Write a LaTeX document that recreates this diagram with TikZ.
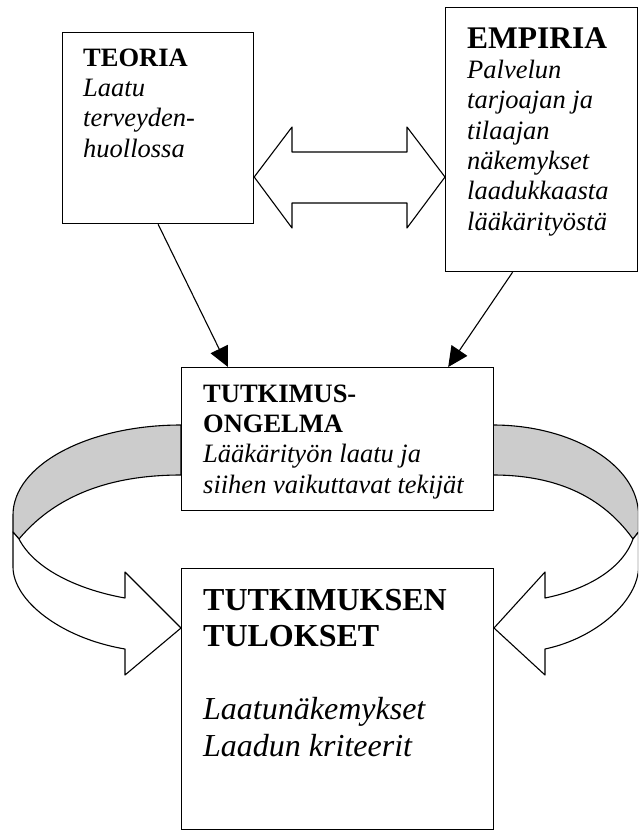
\documentclass[tikz,border=0pt]{standalone}
\usepackage{fontspec}
\setmainfont{Liberation Serif}
\usetikzlibrary{arrows.meta}
\definecolor{bandgray}{RGB}{204,204,204}
\begin{document}
\begin{tikzpicture}[x=1pt,y=-1pt,
    box/.style={draw,line width=1.2pt,fill=white,anchor=north west,inner sep=0pt},
    txt/.style={anchor=base west,inner sep=0pt,align=left,font=\fontsize{26.5}{30.3}\selectfont},
    band/.style={draw,line width=1.1pt,line join=round},
    link/.style={line width=1.1pt,-{Triangle[length=20pt,width=19pt]}}]
  \useasboundingbox (0,0) rectangle (638,831);
  \clip (0,0) rectangle (638,831);
  \draw[band,fill=bandgray] (181,425) .. controls (88,425) and (13,465) .. (13,515) -- (13,532) -- (19,539)
    .. controls (60,490) and (120,475) .. (181,475) -- cycle;
  \draw[band,fill=white] (13,532) -- (13,567) .. controls (13,600) and (60,638) .. (125,649) -- (125,675)
    -- (181,628) -- (125,572) -- (125,598) .. controls (80,590) and (35,570) .. (19,539) -- cycle;
  \draw[band,fill=bandgray] (493,425) .. controls (572,425) and (638.5,465) .. (638.5,515) -- (638.5,532) -- (633,539)
    .. controls (598,490) and (546,475) .. (493,475) -- cycle;
  \draw[band,fill=white] (638.5,532) -- (638.5,567) .. controls (638.5,600) and (597,638) .. (545,649) -- (545,675)
    -- (494,628) -- (545,572) -- (545,598) .. controls (585,590) and (622,570) .. (633,539) -- cycle;
  \node[box,minimum width=191pt,minimum height=191pt] (teoria) at (62,32) {};
  \node[box,minimum width=192pt,minimum height=264pt] (empiria) at (445,7) {};
  \node[box,minimum width=312pt,minimum height=143pt] (ongelma) at (181,367) {};
  \node[box,minimum width=312pt,minimum height=261pt] (tulokset) at (181,568) {};
  \node[txt] (teoriatxt) at (83,157) {\textbf{TEORIA}\\\textit{Laatu}\\\textit{terveyden-}\\\textit{huollossa}};
  \node[txt] (empiriatxt) at (467,230) {{\fontsize{31.5}{30.3}\selectfont\bfseries EMPIRIA}\\\textit{Palvelun}\\
    \textit{tarjoajan ja}\\\textit{tilaajan}\\\textit{näkemykset}\\\textit{laadukkaasta}\\\textit{lääkärityöstä}};
  \node[txt] (ongelmatxt) at (203,493) {\textbf{TUTKIMUS-}\\\textbf{ONGELMA}\\\textit{Lääkärityön laatu ja}\\
    \textit{siihen vaikuttavat tekijät}};
  \node[txt,font=\fontsize{32}{36.5}\selectfont] (tuloksettxt) at (203,756) {\textbf{TUTKIMUKSEN}\\\textbf{TULOKSET}\\[36.5pt]
    \textit{Laatunäkemykset}\\\textit{Laadun kriteerit}};
  \draw[band,fill=white] (teoria.east |- 0,177) -- (292,127) -- (292,152) -- (407,152) -- (407,127) -- (empiria.west |- 0,177)
    -- (407,228) -- (407,203) -- (292,203) -- (292,228) -- cycle;
  \draw[link] (teoria.south) -- ([xshift=47pt]ongelma.north west);
  \draw[link] ([xshift=-29pt]empiria.south) -- ([xshift=-46pt]ongelma.north east);
\end{tikzpicture}
\end{document}
